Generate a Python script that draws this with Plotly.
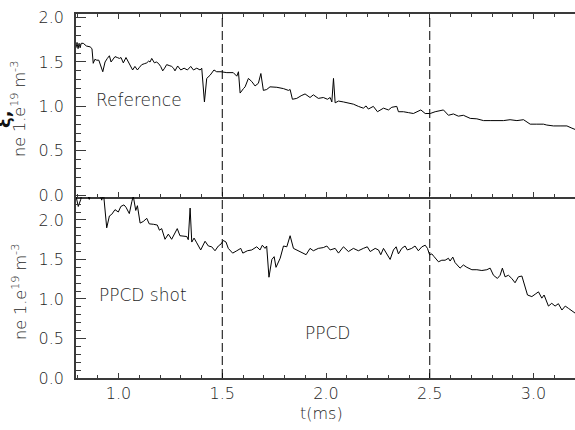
import plotly.graph_objects as go

# ---------------- data ----------------
ref_t = [0.795, 0.800, 0.805, 0.810, 0.815, 0.820, 0.830, 0.845, 0.863, 0.872, 0.878, 0.886,
         0.895, 0.905, 0.924, 0.935, 0.946, 0.956, 0.964, 0.973, 0.983, 0.994, 1.004, 1.012,
         1.023, 1.036, 1.045, 1.055, 1.068, 1.079, 1.091, 1.101, 1.112, 1.124, 1.136, 1.145,
         1.152, 1.160, 1.173, 1.182, 1.192, 1.203, 1.213, 1.222, 1.232, 1.244, 1.256, 1.265,
         1.272, 1.285, 1.300, 1.316, 1.332, 1.348, 1.361, 1.377, 1.393, 1.401, 1.414, 1.425,
         1.441, 1.460, 1.473, 1.494, 1.522, 1.553, 1.570, 1.578, 1.586, 1.602, 1.610, 1.626,
         1.642, 1.658, 1.674, 1.686, 1.698, 1.714, 1.730, 1.763, 1.795, 1.819, 1.827, 1.838,
         1.859, 1.880, 1.899, 1.923, 1.939, 1.963, 1.987, 2.007, 2.020, 2.028, 2.036, 2.044,
         2.060, 2.084, 2.108, 2.132, 2.156, 2.180, 2.193, 2.204, 2.228, 2.248, 2.277, 2.301,
         2.317, 2.341, 2.349, 2.373, 2.397, 2.421, 2.457, 2.478, 2.502, 2.526, 2.566, 2.590,
         2.614, 2.638, 2.662, 2.695, 2.727, 2.759, 2.791, 2.823, 2.855, 2.887, 2.920, 2.952,
         2.984, 3.016, 3.048, 3.064, 3.096, 3.128, 3.161, 3.185, 3.201]
ref_ne = [1.66, 1.72, 1.65, 1.71, 1.66, 1.71, 1.71, 1.68, 1.67, 1.65, 1.485, 1.53,
          1.52, 1.52, 1.39, 1.50, 1.54, 1.57, 1.50, 1.53, 1.56, 1.55, 1.54, 1.55,
          1.49, 1.55, 1.51, 1.47, 1.41, 1.45, 1.41, 1.44, 1.47, 1.48, 1.49, 1.51,
          1.50, 1.54, 1.49, 1.50, 1.485, 1.45, 1.40, 1.43, 1.47, 1.46, 1.45, 1.43,
          1.40, 1.455, 1.41, 1.43, 1.41, 1.45, 1.41, 1.43, 1.41, 1.43, 1.05, 1.315,
          1.35, 1.41, 1.39, 1.39, 1.38, 1.38, 1.34, 1.39, 1.15, 1.20, 1.22, 1.315,
          1.28, 1.23, 1.26, 1.37, 1.18, 1.19, 1.22, 1.215, 1.20, 1.18, 1.19, 1.08,
          1.09, 1.12, 1.14, 1.10, 1.13, 1.09, 1.10, 1.08, 1.10, 1.05, 1.315, 1.04,
          1.06, 1.05, 1.04, 1.025, 1.00, 0.98, 1.005, 0.97, 1.00, 0.94, 0.98, 0.96,
          0.99, 1.00, 0.94, 0.94, 0.93, 0.92, 0.96, 0.92, 0.92, 0.94, 0.96, 0.90,
          0.915, 0.89, 0.90, 0.865, 0.86, 0.84, 0.84, 0.84, 0.84, 0.85, 0.84, 0.85,
          0.80, 0.80, 0.80, 0.79, 0.78, 0.78, 0.78, 0.755, 0.74]

ppcd_t = [0.795, 0.806, 0.818, 0.829, 0.859, 0.872, 0.891, 0.919, 0.927, 0.943, 0.956, 0.967,
          0.983, 0.999, 1.011, 1.026, 1.036, 1.052, 1.064, 1.071, 1.083, 1.091, 1.104, 1.119,
          1.136, 1.148, 1.168, 1.187, 1.197, 1.208, 1.224, 1.240, 1.256, 1.283, 1.296, 1.329,
          1.336, 1.345, 1.353, 1.364, 1.377, 1.396, 1.417, 1.433, 1.449, 1.465, 1.481, 1.494,
          1.505, 1.518, 1.529, 1.550, 1.570, 1.589, 1.599, 1.621, 1.642, 1.666, 1.682, 1.693,
          1.706, 1.714, 1.725, 1.739, 1.750, 1.759, 1.779, 1.795, 1.811, 1.827, 1.843, 1.867,
          1.891, 1.904, 1.923, 1.939, 1.963, 1.987, 2.004, 2.020, 2.044, 2.060, 2.084, 2.108,
          2.132, 2.156, 2.180, 2.199, 2.213, 2.237, 2.253, 2.264, 2.277, 2.293, 2.309, 2.325,
          2.338, 2.349, 2.365, 2.381, 2.392, 2.413, 2.429, 2.445, 2.462, 2.478, 2.489, 2.499,
          2.510, 2.521, 2.542, 2.558, 2.574, 2.590, 2.598, 2.611, 2.622, 2.646, 2.662, 2.679,
          2.703, 2.727, 2.751, 2.775, 2.791, 2.807, 2.826, 2.839, 2.850, 2.863, 2.879, 2.895,
          2.911, 2.927, 2.944, 2.971, 2.992, 3.008, 3.024, 3.040, 3.051, 3.072, 3.088, 3.104,
          3.120, 3.137, 3.153, 3.169, 3.185, 3.201]
ppcd_ne = [2.30, 2.17, 2.26, 2.45, 2.26, 2.40, 2.50, 2.25, 2.35, 1.90, 2.05, 2.07,
           2.13, 2.10, 2.17, 2.19, 2.16, 2.08, 2.23, 2.30, 2.12, 2.18, 1.96, 1.98,
           2.02, 1.95, 1.945, 1.935, 1.87, 1.89, 1.755, 1.82, 1.755, 1.89, 1.80, 1.79,
           1.75, 2.15, 1.72, 1.77, 1.71, 1.62, 1.73, 1.67, 1.66, 1.61, 1.67, 1.695,
           1.74, 1.72, 1.64, 1.58, 1.61, 1.64, 1.58, 1.61, 1.62, 1.66, 1.62, 1.68,
           1.64, 1.67, 1.275, 1.50, 1.535, 1.40, 1.515, 1.67, 1.66, 1.80, 1.64, 1.61,
           1.585, 1.56, 1.64, 1.61, 1.64, 1.65, 1.67, 1.62, 1.64, 1.58, 1.66, 1.60,
           1.64, 1.61, 1.64, 1.66, 1.60, 1.64, 1.62, 1.56, 1.64, 1.56, 1.50, 1.62,
           1.66, 1.57, 1.64, 1.67, 1.62, 1.64, 1.67, 1.61, 1.66, 1.68, 1.64, 1.56,
           1.57, 1.535, 1.47, 1.49, 1.49, 1.515, 1.48, 1.53, 1.46, 1.39, 1.43, 1.40,
           1.37, 1.37, 1.36, 1.37, 1.39, 1.30, 1.26, 1.30, 1.39, 1.28, 1.30, 1.26,
           1.205, 1.28, 1.29, 1.05, 1.03, 1.06, 1.09, 1.01, 1.05, 0.91, 0.945, 0.91,
           0.94, 0.86, 0.91, 0.88, 0.85, 0.82]

ppcd_window = [1.5, 2.5]
x_ticks = [1.0, 1.5, 2.0, 2.5, 3.0]
y_ticks = [0.0, 0.5, 1.0, 1.5, 2.0]

# ---------------- layout geometry ----------------
W, H = 575, 430
L, R, T, B = 76, 0, 14, 52
PW, PH = W - L - R, H - T - B
MID = 197  # pixel row of shared middle frame line


def px(xp):
    return (xp - L) / PW


def py(yp):
    return (H - B - yp) / PH


split = py(MID)
FONT = "DejaVu Sans"
TXT = "#1e1e1e"
AX = "#3a3a3a"

fig = go.Figure()
fig.add_trace(go.Scatter(x=ref_t, y=ref_ne, mode="lines", xaxis="x", yaxis="y",
                         line=dict(color="black", width=1), showlegend=False,
                         hoverinfo="skip"))
fig.add_trace(go.Scatter(x=ppcd_t, y=ppcd_ne, mode="lines", xaxis="x2", yaxis="y2",
                         line=dict(color="black", width=1), showlegend=False,
                         hoverinfo="skip"))

xcommon = dict(range=[0.795, 3.2], tickvals=x_ticks, ticks="inside", ticklen=5,
               tickwidth=1, tickcolor=AX, showline=True, linecolor=AX, linewidth=1.5,
               showgrid=False, zeroline=False, automargin=False,
               minor=dict(dtick=0.1, tick0=0, ticks="inside", ticklen=3,
                          tickcolor=AX, showgrid=False),
               tickformat=".1f", domain=[0, 1])
ycommon = dict(tickvals=y_ticks, ticks="inside", ticklen=10, tickwidth=1, tickcolor=AX,
               showline=True, linecolor=AX, linewidth=1.5, mirror=False,
               showgrid=False, zeroline=False, automargin=False,
               minor=dict(dtick=0.1, tick0=0, ticks="inside", ticklen=5,
                          tickcolor=AX, showgrid=False),
               tickformat=".1f", ticklabelstandoff=7,
               tickfont=dict(family=FONT, size=16, color=TXT, weight=300))

fig.update_layout(
    width=W, height=H,
    margin=dict(l=L, r=R, t=T, b=B, pad=0, autoexpand=False),
    paper_bgcolor="white", plot_bgcolor="white",
    xaxis=dict(xcommon, anchor="y", showticklabels=False, mirror="ticks"),
    yaxis=dict(ycommon, anchor="x", domain=[split, 1], range=[-0.02, 2.04]),
    xaxis2=dict(xcommon, anchor="y2", showticklabels=True, ticklabelstandoff=0,
                mirror=False,
                tickfont=dict(family=FONT, size=16, color=TXT, weight=300)),
    yaxis2=dict(ycommon, anchor="x2", domain=[0, split], range=[0, 2.29]),
)

for t in ppcd_window:
    fig.add_shape(type="line", xref="x", yref="paper", x0=t, x1=t, y0=0, y1=1,
                  line=dict(color="black", width=1, dash="9px,4px"))

afont = dict(family=FONT, size=17, color=TXT, weight=300)
fig.add_annotation(x=1.099, y=1.072, xref="x", yref="y", text="Reference",
                   showarrow=False, font=afont, xanchor="center", yanchor="middle")
fig.add_annotation(x=1.116, y=1.05, xref="x2", yref="y2", text="PPCD shot",
                   showarrow=False, font=afont, xanchor="center", yanchor="middle")
fig.add_annotation(x=2.008, y=0.57, xref="x2", yref="y2", text="PPCD",
                   showarrow=False, font=afont, xanchor="center", yanchor="middle")

# x-axis title placed explicitly
fig.add_annotation(x=px(321.5), y=py(413), xref="paper", yref="paper", text="t(ms)",
                   showarrow=False, xanchor="center", yanchor="middle",
                   font=dict(family=FONT, size=16, color=TXT, weight=300))

ylab = "ne 1.e<sup>19</sup> m<sup>-3</sup>"
for yc in (109, 292):
    fig.add_annotation(x=px(19), y=py(yc), xref="paper", yref="paper", text=ylab,
                       textangle=-90, showarrow=False, xanchor="center", yanchor="middle",
                       font=dict(family=FONT, size=16, color=TXT, weight=300))

# partially cut-off glyph at the left edge
fig.add_annotation(x=px(4), y=py(120), xref="paper", yref="paper", text="<b>ξ,</b>",
                   textangle=-90, showarrow=False, xanchor="center", yanchor="middle",
                   font=dict(family=FONT, size=18, color="#111"))

fig.write_html("out.html", config={"displayModeBar": False},
               post_script="document.body.style.margin='0';document.body.style.overflow='hidden';")
